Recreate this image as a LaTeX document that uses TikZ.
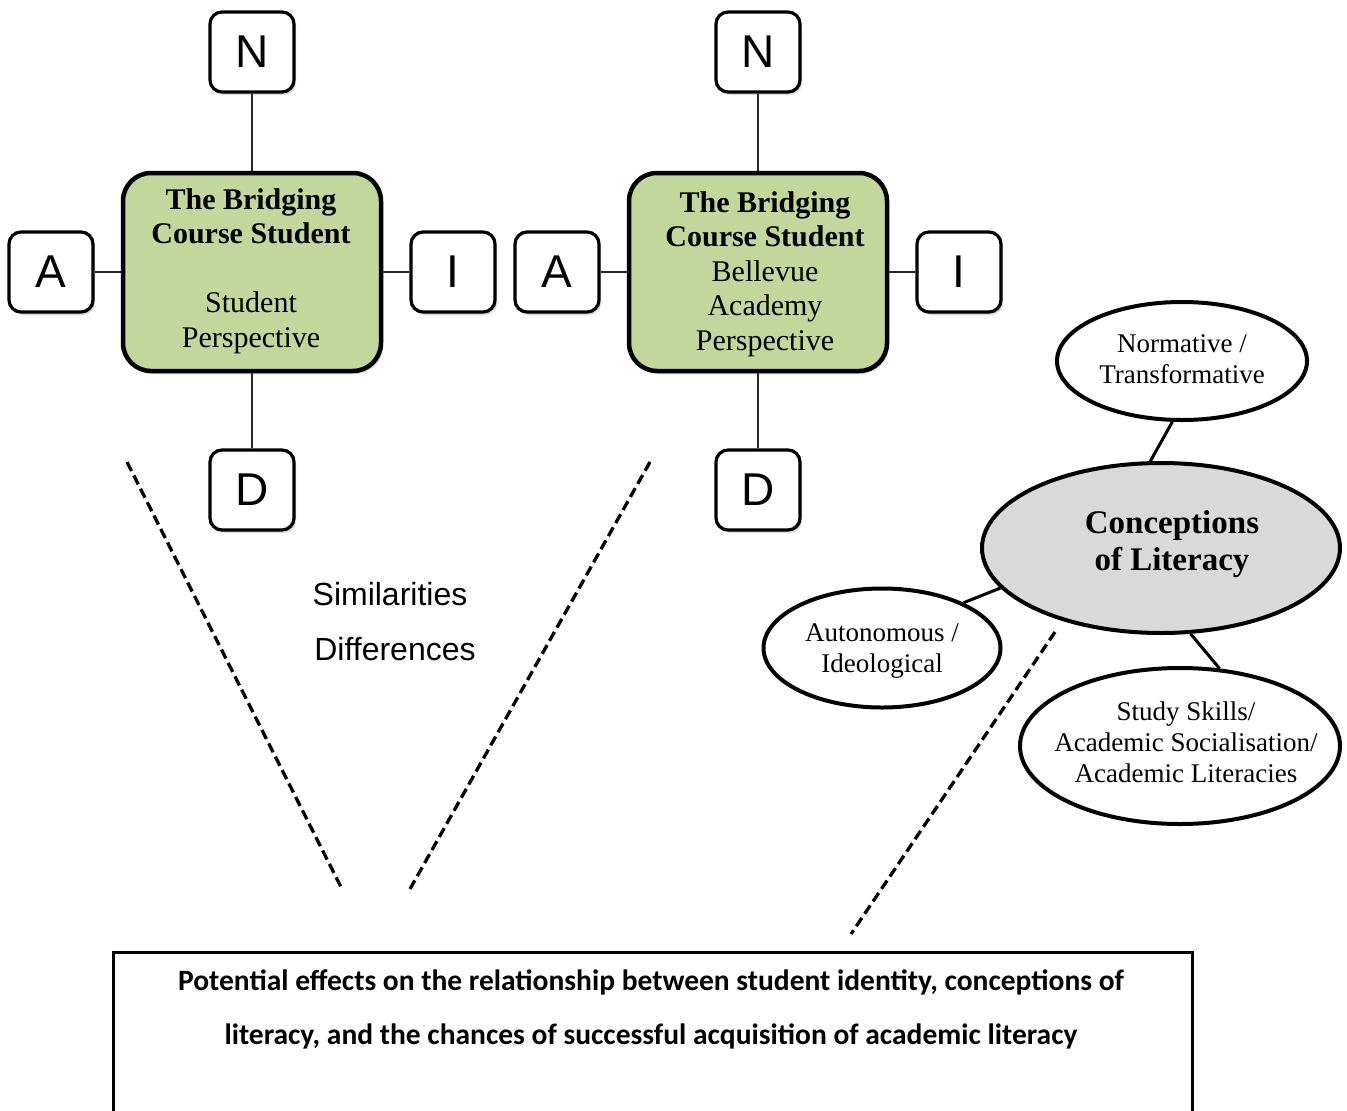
\documentclass[tikz,border=0pt]{standalone}
\usepackage{fontspec}
\setmainfont{Liberation Serif}
\newfontfamily\arialf{Liberation Sans}
\newfontfamily\calf{Carlito}
\usetikzlibrary{shapes.geometric,shadows}
\definecolor{boxgreen}{RGB}{195,214,155}
\definecolor{ellgray}{RGB}{217,217,217}
\tikzset{
  softshadow/.style={drop shadow={opacity=0.3, shadow xshift=2pt, shadow yshift=-3pt}},
  letterbox/.style={draw=black, line width=3.2pt, rounded corners=12pt, fill=white,
    minimum width=84pt, minimum height=80pt, inner sep=0pt,
    font=\arialf\fontsize{46}{46}\selectfont, softshadow},
  centerbox/.style={draw=black, line width=4.5pt, rounded corners=28pt, fill=boxgreen,
    minimum width=258pt, minimum height=198pt, inner sep=0pt, align=center,
    font=\fontsize{30}{34.5}\selectfont, softshadow},
  boxtext/.style={align=center, font=\fontsize{30}{34.5}\selectfont, inner sep=0pt},
  link/.style={draw=black!85, line width=2pt},
  elink/.style={draw=black, line width=3pt},
  dashline/.style={line width=3.3pt, dash pattern=on 10pt off 5pt},
  oval/.style={ellipse, draw=black, line width=4pt, fill=white, inner sep=0pt},
  ovaltext/.style={align=center, font=\fontsize{27}{31}\selectfont, inner sep=0pt},
  sidetext/.style={font=\arialf\fontsize{32}{32}\selectfont, inner sep=0pt},
}
\begin{document}
\begin{tikzpicture}[x=1pt,y=-1pt]
\useasboundingbox (0,0) rectangle (1347,1111);
\clip (0,0) rectangle (1347,1111);

% left cluster
\node[centerbox] (B1) at (252,272) {};
\node[boxtext] (B1t) at (251,271) {\textbf{The Bridging}\\\textbf{Course Student}\\\strut\\Student\\Perspective};
\node[letterbox] (N1) at (252,52) {N};
\node[letterbox] (A1) at (51,272) {A};
\node[letterbox] (I1) at (453,272) {I};
\node[letterbox] (D1) at (252,490) {D};
\draw[link] (N1) -- (B1);
\draw[link] (A1) -- (B1);
\draw[link] (I1) -- (B1);
\draw[link] (D1) -- (B1);

% right cluster
\node[centerbox] (B2) at (758,272) {};
\node[boxtext] (B2t) at (765,274) {\textbf{The Bridging}\\\textbf{Course Student}\\Bellevue\\Academy\\Perspective};
\node[letterbox] (N2) at (758,52) {N};
\node[letterbox] (A2) at (557,272) {A};
\node[letterbox] (I2) at (959,272) {I};
\node[letterbox] (D2) at (758,490) {D};
\draw[link] (N2) -- (B2);
\draw[link] (A2) -- (B2);
\draw[link] (I2) -- (B2);
\draw[link] (D2) -- (B2);

% similarities / differences
\node[sidetext] (sim) at (390,594) {Similarities};
\node[sidetext] (dif) at (395,649) {Differences};

% conceptions of literacy
\node[oval, minimum width=250pt, minimum height=118pt] (norm) at (1182,361) {};
\node[ovaltext] (normt) at (1182,359) {Normative /\\Transformative};
\node[oval, fill=ellgray, minimum width=358pt, minimum height=170pt] (conc) at (1161,548) {};
\node[align=center, font=\bfseries\fontsize{33}{37}\selectfont, inner sep=0pt] (conct) at (1172,544) {Conceptions\\of Literacy};
\node[oval, minimum width=237pt, minimum height=119pt] (auto) at (882,648) {};
\node[ovaltext] (autot) at (882,651) {Autonomous /\\Ideological};
\node[oval, minimum width=320pt, minimum height=156pt] (study) at (1180,746) {};
\node[ovaltext] (studyt) at (1186,742) {Study Skills/\\Academic Socialisation/\\Academic Literacies};
\draw[elink] (norm.261) -- (conc.97);
\draw[elink] (conc.194) -- (auto.29);
\draw[elink] (conc.289) -- (study.63);

% dashed lines
\coordinate (d1a) at (127,462); \coordinate (d1b) at (342,889);
\coordinate (d2a) at (650,462); \coordinate (d2b) at (410,889);
\coordinate (d3a) at (1055,632); \coordinate (d3b) at (851,934);
\draw[dashline] (d1a) -- (d1b);
\draw[dashline] (d2a) -- (d2b);
\draw[dashline] (d3a) -- (d3b);

% result box
\node[draw=black, line width=3pt, minimum width=1079pt, minimum height=190pt, anchor=north west, inner sep=0pt] (res) at (112,951) {};
\node[align=center, font=\calf\bfseries\fontsize{29.5}{54}\selectfont, inner sep=0pt] (rest) at (651,1009)
  {Potential effects on the relationship between student identity, conceptions of\\literacy, and the chances of successful acquisition of academic literacy};
\end{tikzpicture}
\end{document}
